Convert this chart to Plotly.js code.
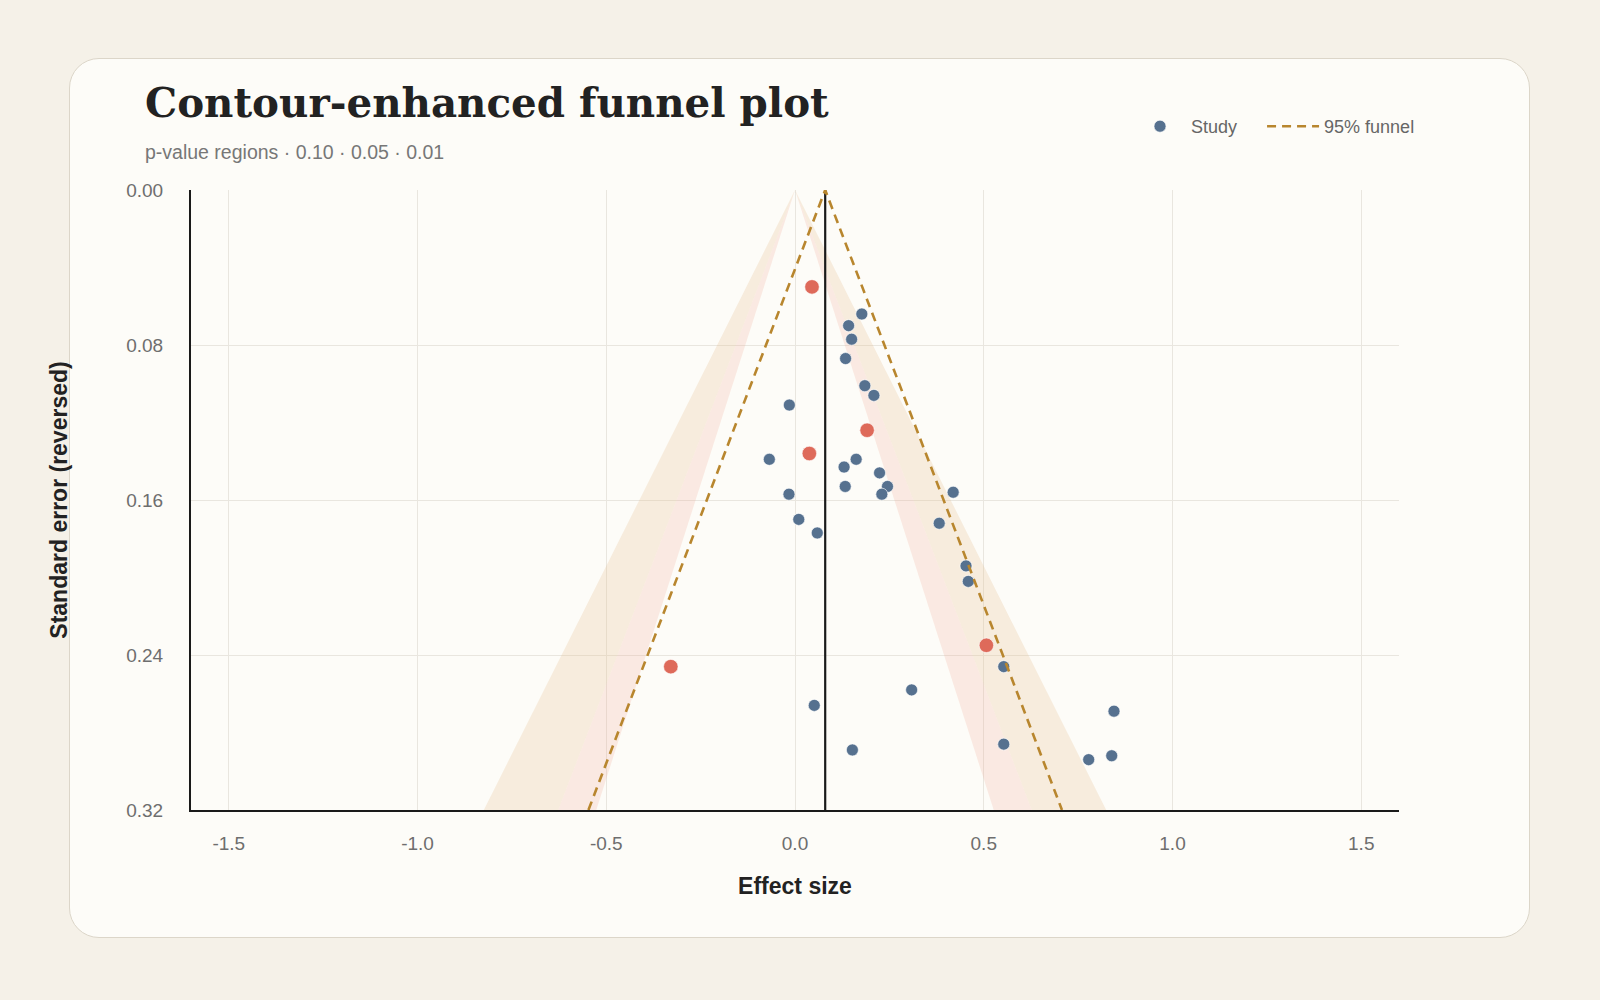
<!DOCTYPE html>
<html>
<head>
<meta charset="utf-8">
<script src="https://cdn.plot.ly/plotly-3.0.1.min.js"></script>
<style>
  html, body { margin: 0; padding: 0; background: #f5f1e8; }
  #card {
    position: absolute; left: 69px; top: 58px; width: 1459px; height: 878px;
    background: #fdfcf8; border: 1.5px solid #dcd6c9; border-radius: 30px;
  }
  #chart { position: absolute; left: 0; top: 0; width: 1600px; height: 1000px; }
</style>
</head>
<body>
<div id="card"></div>
<div id="chart"></div>
<script>
// study estimates
const studyEffect = [0.177, 0.142, 0.150, 0.134, 0.185, 0.209, -0.015, -0.068, 0.162, 0.130,
  0.224, 0.133, 0.245, 0.230, 0.419, -0.016, 0.382, 0.010, 0.059, 0.453,
  0.459, 0.553, 0.309, 0.051, 0.845, 0.553, 0.152, 0.778, 0.839];
const studySE = [0.064, 0.070, 0.077, 0.087, 0.101, 0.106, 0.111, 0.139, 0.139, 0.143,
  0.146, 0.153, 0.153, 0.157, 0.156, 0.157, 0.172, 0.170, 0.177, 0.194,
  0.202, 0.246, 0.258, 0.266, 0.269, 0.286, 0.289, 0.294, 0.292];

// highlighted studies (red)
const flagEffect = [0.045, 0.191, 0.038, 0.507, -0.329];
const flagSE = [0.050, 0.124, 0.136, 0.235, 0.246];

const pooled = 0.08;
const seMax = 0.32;
const zTen = 1.645, zFive = 1.96, zOne = 2.576;
const xTicks = [-1.5, -1.0, -0.5, 0.0, 0.5, 1.0, 1.5];
const xTickLabels = ["-1.5", "-1.0", "-0.5", "0.0", "0.5", "1.0", "1.5"];
const yTicks = [0.00, 0.08, 0.16, 0.24, 0.32];
const yTickLabels = ["0.00", "0.08", "0.16", "0.24", "0.32"];

const BLUE = "#56718f";
const RED = "#de6a5a";
const GOLD = "#b8862e";
const TICK = "#6e6e6e";
const FONT = "Liberation Sans, Arial, sans-serif";

// contour band between two z values, one side
function band(zIn, zOut, side, color) {
  return {
    type: "scatter", mode: "lines",
    x: [0, side * zOut * seMax, side * zIn * seMax, 0],
    y: [0, seMax, seMax, 0],
    fill: "toself", fillcolor: color,
    line: { width: 0 }, hoverinfo: "skip", showlegend: false,
  };
}

const BEIGE = "rgba(230,190,140,0.24)";
const PINK = "rgba(242,160,140,0.20)";

const traces = [
  band(zFive, zOne, -1, BEIGE),
  band(zFive, zOne, 1, BEIGE),
  band(zTen, zFive, -1, PINK),
  band(zTen, zFive, 1, PINK),
  {
    type: "scatter", mode: "lines", name: "pooled",
    x: [pooled, pooled], y: [0, seMax],
    line: { color: "#1a1a1a", width: 2.2 }, showlegend: false, hoverinfo: "skip",
  },
  {
    // trailing spaces widen the gap to the next legend entry
    type: "scatter", mode: "markers", name: "Study\u00a0\u00a0\u00a0\u00a0",
    x: studyEffect, y: studySE,
    marker: { color: BLUE, size: 12, line: { color: "rgba(255,255,255,0.6)", width: 1 } },
  },
  {
    type: "scatter", mode: "markers", name: "Flagged",
    x: flagEffect, y: flagSE, showlegend: false,
    marker: { color: RED, size: 14.5, line: { color: "rgba(255,255,255,0.6)", width: 1 } },
  },
  {
    type: "scatter", mode: "lines", name: "95% funnel",
    x: [pooled - zFive * seMax, pooled, pooled + zFive * seMax],
    y: [seMax, 0, seMax],
    line: { color: GOLD, width: 2.6, dash: "9px,6px" },
  },
];

const layout = {
  width: 1600, height: 1000,
  paper_bgcolor: "rgba(0,0,0,0)",
  plot_bgcolor: "#fdfcf8",
  margin: { l: 191, r: 201, t: 190, b: 190 },
  font: { family: FONT, color: TICK, size: 18 },
  showlegend: true,
  legend: {
    orientation: "h", x: 0.7765, xanchor: "left", y: 1.1024, yanchor: "middle",
    font: { size: 18, color: "#666" }, bgcolor: "rgba(0,0,0,0)",
    traceorder: "normal", itemwidth: 52,
  },
  xaxis: {
    range: [-1.6, 1.6], tickvals: xTicks, ticktext: xTickLabels,
    showgrid: true, gridcolor: "#e9e6df", gridwidth: 1,
    zeroline: false, showline: true, linecolor: "#1a1a1a", linewidth: 2,
    ticks: "", ticklabelstandoff: 15,
    tickfont: { size: 19, color: TICK },
    title: { text: "<b>Effect size</b>", font: { size: 23, color: "#222" }, standoff: 25 },
  },
  yaxis: {
    range: [seMax, 0], tickvals: yTicks, ticktext: yTickLabels,
    showgrid: true, gridcolor: "#e9e6df", gridwidth: 1,
    zeroline: false, showline: true, linecolor: "#1a1a1a", linewidth: 2,
    ticks: "", ticklabelstandoff: 22,
    tickfont: { size: 19, color: TICK },
    title: { text: "<b>Standard error (reversed)</b>", font: { size: 23, color: "#222" }, standoff: 52 },
  },
  annotations: [
    {
      xref: "paper", yref: "paper", x: -0.040, y: 1.14, xanchor: "left", yanchor: "middle",
      text: "<b>Contour-enhanced funnel plot</b>", showarrow: false,
      font: { family: "DejaVu Serif, Liberation Serif, serif", size: 40.4, color: "#222" },
    },
    {
      xref: "paper", yref: "paper", x: -0.040, y: 1.062, xanchor: "left", yanchor: "middle",
      text: "p-value regions · 0.10 · 0.05 · 0.01", showarrow: false,
      font: { size: 19.5, color: "#777" },
    },
  ],
};

Plotly.newPlot("chart", traces, layout, { displayModeBar: false, staticPlot: true });
</script>
</body>
</html>
